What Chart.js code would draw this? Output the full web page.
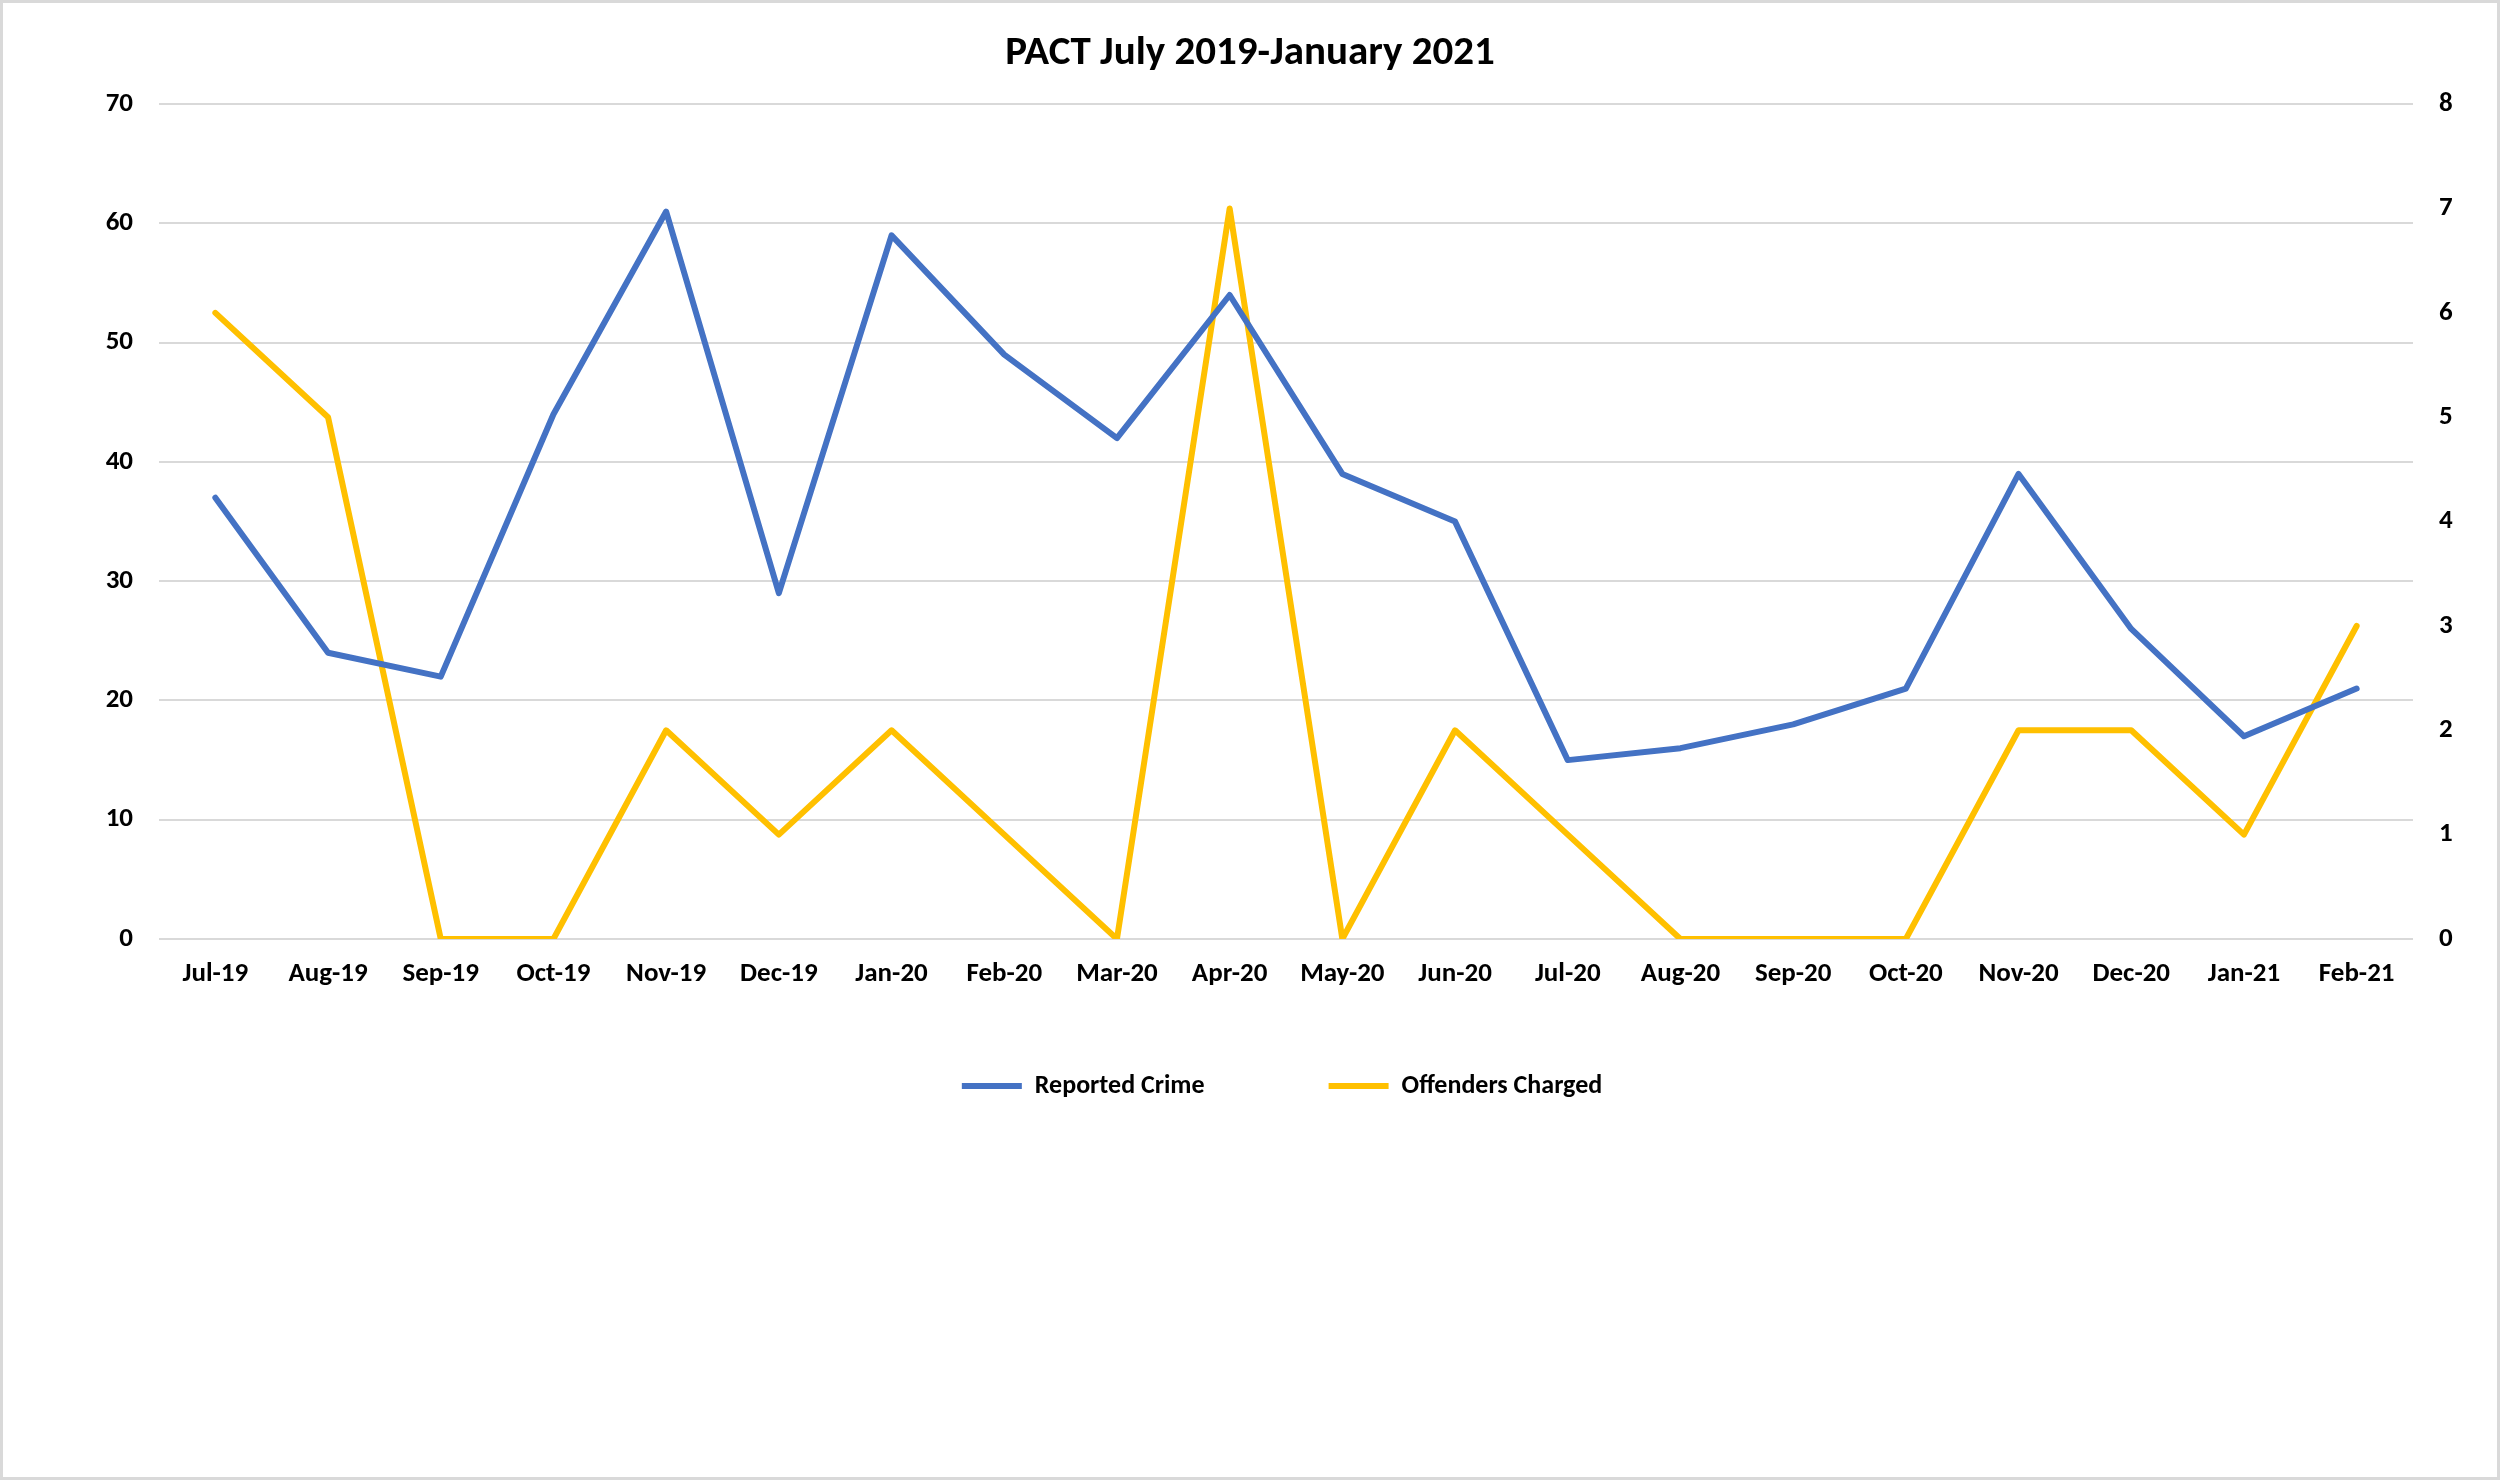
<!DOCTYPE html>
<html>
<head>
<meta charset="utf-8">
<title>PACT July 2019-January 2021</title>
<script src="https://cdn.jsdelivr.net/npm/chart.js@4.4.1/dist/chart.umd.min.js"></script>
<style>
  html, body { margin: 0; padding: 0; background: #fff; overflow: hidden; }
  canvas { display: block; }
</style>
</head>
<body>
<canvas id="pactChart" width="2500" height="1480"></canvas>
<script>
// values
const months = ['Jul-19', 'Aug-19', 'Sep-19', 'Oct-19', 'Nov-19', 'Dec-19', 'Jan-20', 'Feb-20', 'Mar-20', 'Apr-20',
    'May-20', 'Jun-20', 'Jul-20', 'Aug-20', 'Sep-20', 'Oct-20', 'Nov-20', 'Dec-20', 'Jan-21', 'Feb-21'];
const reportedCrime = [37, 24, 22, 44, 61, 29, 59, 49, 42, 54, 39, 35, 15, 16, 18, 21, 39, 26, 17, 21];
const offendersCharged = [6, 5, 0, 0, 2, 1, 2, 1, 0, 7, 0, 2, 1, 0, 0, 0, 2, 2, 1, 3];
const leftTicks = [0, 10, 20, 30, 40, 50, 60, 70];
const rightTicks = [0, 1, 2, 3, 4, 5, 6, 7, 8];

const FONT = "Carlito, 'Liberation Sans Narrow', 'Open Sans', sans-serif";
const BLUE = '#4472C4';
const GOLD = '#FFC000';

// white background + thin grey frame like the excel chart
const frame = {
    id: 'frame',
    beforeDraw(chart) {
        const ctx = chart.ctx;
        ctx.save();
        ctx.fillStyle = '#fff';
        ctx.fillRect(0, 0, chart.width, chart.height);
        ctx.strokeStyle = '#d9d9d9';
        ctx.lineWidth = 3;
        ctx.strokeRect(1.5, 1.5, chart.width - 3, chart.height - 3);
        ctx.restore();
    }
};

// big label padding spreads the legend items apart but also pushes them down,
// pull the legend back up (and centre it on the plot, not the canvas)
const legendShift = {
    id: 'legendShift',
    afterLayout(chart) {
        chart.legend.top -= 40;
        chart.legend.bottom -= 40;
        chart.legend.left += 32;
        chart.legend.right += 32;
    }
};

const ctx = document.getElementById('pactChart').getContext('2d');
new Chart(ctx, {
    type: 'line',
    data: {
        labels: months,
        datasets: [{
            label: 'Reported Crime',
            data: reportedCrime,
            borderColor: BLUE,
            backgroundColor: BLUE,
            borderWidth: 6,
            pointRadius: 0,
            borderJoinStyle: 'round',
            borderCapStyle: 'round',
            yAxisID: 'y'
        }, {
            label: 'Offenders Charged',
            data: offendersCharged,
            borderColor: GOLD,
            backgroundColor: GOLD,
            borderWidth: 6,
            pointRadius: 0,
            borderJoinStyle: 'round',
            borderCapStyle: 'round',
            yAxisID: 'y2'
        }]
    },
    options: {
        responsive: false,
        animation: false,
        devicePixelRatio: 1,
        layout: {padding: {left: 0, right: 0, top: 0, bottom: 331}},
        plugins: {
            title: {
                display: true,
                text: 'PACT July 2019-January 2021',
                color: '#000',
                font: {family: FONT, size: 41, weight: 'bold'},
                padding: {top: 29, bottom: 26}
            },
            legend: {
                position: 'bottom',
                labels: {
                    usePointStyle: true,
                    pointStyle: 'line',
                    pointStyleWidth: 60,
                    color: '#000',
                    font: {family: FONT, size: 26, weight: 'bold'},
                    padding: 124
                }
            },
            tooltip: {enabled: false}
        },
        scales: {
            x: {
                offset: true,
                grid: {display: false},
                border: {display: false},
                ticks: {
                    color: '#000',
                    font: {family: FONT, size: 27, weight: 'bold'},
                    maxRotation: 0,
                    autoSkip: false,
                    padding: 11
                },
                afterFit: axis => { axis.height = 50; }
            },
            y: {
                position: 'left',
                min: 0,
                max: 70,
                afterBuildTicks: axis => { axis.ticks = leftTicks.map(v => ({value: v})); },
                grid: {color: '#d9d9d9', lineWidth: 2, drawTicks: false},
                border: {display: false},
                ticks: {
                    color: '#000',
                    font: {family: FONT, size: 27, weight: 'bold'},
                    padding: 26
                },
                afterFit: axis => { axis.width = 159; }
            },
            y2: {
                position: 'right',
                min: 0,
                max: 8,
                afterBuildTicks: axis => { axis.ticks = rightTicks.map(v => ({value: v})); },
                grid: {display: false, drawTicks: false},
                border: {display: false},
                ticks: {
                    color: '#000',
                    font: {family: FONT, size: 27, weight: 'bold'},
                    padding: 26
                },
                afterFit: axis => { axis.width = 87; }
            }
        }
    },
    plugins: [frame, legendShift]
});
</script>
</body>
</html>
